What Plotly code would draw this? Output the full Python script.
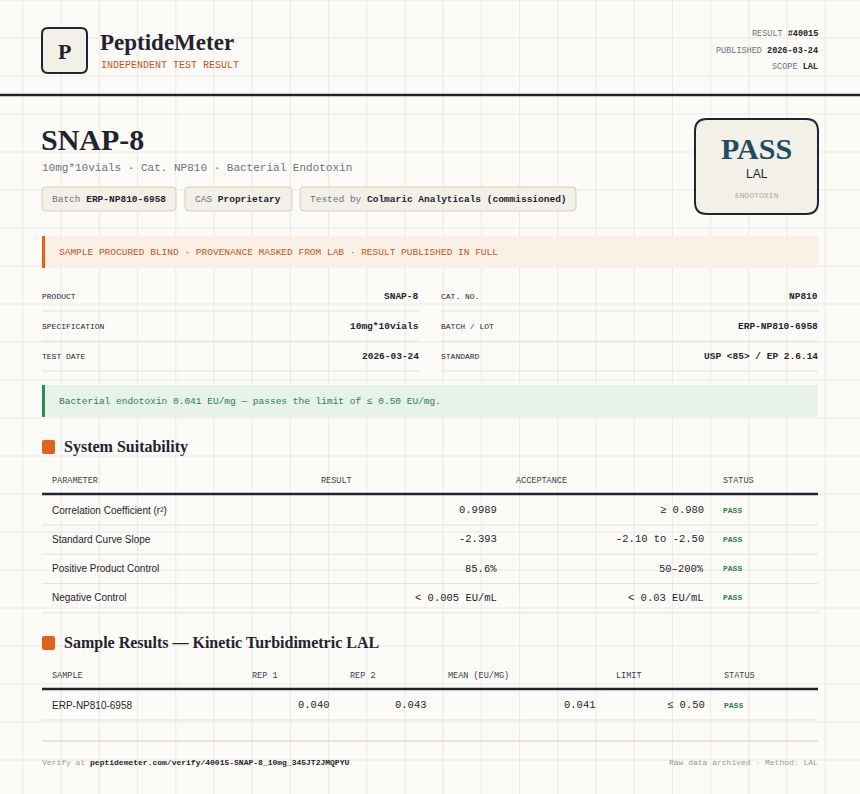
import plotly.graph_objects as go

W, H = 860, 794
DARK = "#1f2430"; GRAY = "#6b7280"; ORANGE = "#c4561d"; GREEN = "#2e7d4f"
LINE = "#e6e1d6"; PILL = "#f3f0e8"; PILLB = "#d6cfbf"
MONO = "Liberation Mono, DejaVu Sans Mono, monospace"
SERIF = "Liberation Serif, DejaVu Serif, serif"
SANS = "Liberation Sans, Roboto, sans-serif"

meta_labels = ["RESULT", "PUBLISHED", "SCOPE"]
meta_values = ["#40015", "2026-03-24", "LAL"]
pills = [("Batch", "ERP-NP810-6958"), ("CAS", "Proprietary"), ("Tested by", "Colmaric Analyticals (commissioned)")]
info_left = [("PRODUCT", "SNAP-8"), ("SPECIFICATION", "10mg*10vials"), ("TEST DATE", "2026-03-24")]
info_right = [("CAT. NO.", "NP810"), ("BATCH / LOT", "ERP-NP810-6958"), ("STANDARD", "USP <85> / EP 2.6.14")]
ss_headers = ["PARAMETER", "RESULT", "ACCEPTANCE", "STATUS"]
ss_params = ["Correlation Coefficient (r²)", "Standard Curve Slope", "Positive Product Control", "Negative Control"]
ss_results = ["0.9989", "-2.393", "85.6%", "< 0.005 EU/mL"]
ss_accept = ["≥ 0.980", "-2.10 to -2.50", "50–200%", "< 0.03 EU/mL"]
ss_status = ["PASS", "PASS", "PASS", "PASS"]
sr_headers = ["SAMPLE", "REP 1", "REP 2", "MEAN (EU/MG)", "LIMIT", "STATUS"]
sr_rows = [["ERP-NP810-6958", "0.040", "0.043", "0.041", "≤ 0.50", "PASS"]]

fig = go.Figure()
shapes = []; ann = []

def rect(x0, y0, x1, y1, fill, line=None, lw=0, r=0):
    if r:
        p = (f"M{x0+r},{y0} L{x1-r},{y0} Q{x1},{y0} {x1},{y0+r} L{x1},{y1-r} Q{x1},{y1} {x1-r},{y1} "
             f"L{x0+r},{y1} Q{x0},{y1} {x0},{y1-r} L{x0},{y0+r} Q{x0},{y0} {x0+r},{y0} Z")
        shapes.append(dict(type="path", path=p, xref="x", yref="y", fillcolor=fill,
                           line=dict(color=line or fill, width=lw), layer="above"))
    else:
        shapes.append(dict(type="rect", x0=x0, y0=y0, x1=x1, y1=y1, xref="x", yref="y",
                           fillcolor=fill, line=dict(color=line or fill, width=lw), layer="above"))

def hline(y, x0, x1, color, w):
    shapes.append(dict(type="line", x0=x0, x1=x1, y0=y, y1=y, xref="x", yref="y",
                       line=dict(color=color, width=w), layer="above"))

def text(x, y, s, size, color=DARK, font=MONO, anchor="left"):
    dx = -2 if anchor == "left" else (2 if anchor == "right" else 0)
    ann.append(dict(x=x + dx, y=y, xref="x", yref="y", text=s, showarrow=False, xanchor=anchor,
                    yanchor="middle", font=dict(size=size, color=color, family=font)))

# background grid
g = 23
while g < W:
    shapes.append(dict(type="line", x0=g, x1=g, y0=0, y1=H, xref="x", yref="y", line=dict(color="#ece9e0", width=1), layer="below"))
    g += 38.2
g = 0
while g < H:
    shapes.append(dict(type="line", x0=0, x1=W, y0=g, y1=g, xref="x", yref="y", line=dict(color="#ece9e0", width=1), layer="below"))
    g += 38

# header
rect(42, 28, 87, 73, PILL, DARK, 2, 6)
text(64.5, 51, "<b>P</b>", 22, DARK, SERIF, "center")
text(100, 42, "<b>PeptideMeter</b>", 23, DARK, SERIF)
text(101, 65, "INDEPENDENT TEST RESULT", 10, ORANGE)
for i, (l, v) in enumerate(zip(meta_labels, meta_values)):
    text(818, 34 + i * 16.5, f"<span style='color:{GRAY}'>{l}</span> <b>{v}</b>", 8.5, DARK, MONO, "right")
hline(95, 0, W, DARK, 2.5)

text(41, 139, "<b>SNAP-8</b>", 30, DARK, SERIF)
text(42, 168, "10mg*10vials · Cat. NP810 · Bacterial Endotoxin", 11, GRAY)
px = [(42, 176), (185, 292), (300, 576)]
for (a, b), (l, v) in zip(px, pills):
    rect(a, 187, b, 211, PILL, PILLB, 1, 4)
    text(a + 10, 199, f"<span style='color:{GRAY}'>{l}</span> <b>{v}</b>", 9.5, DARK)

rect(695, 119, 818, 214, PILL, DARK, 2, 12)
text(756.5, 148, "<b>PASS</b>", 30, "#1e4d63", SERIF, "center")
text(756.5, 174, "LAL", 12, DARK, SANS, "center")
text(756.5, 195, "ENDOTOXIN", 8, "#a8a8a8", MONO, "center")

rect(42, 236, 818, 268, "#fbf0e6")
rect(42, 236, 45, 268, "#e0621e")
text(59, 252, "SAMPLE PROCURED BLIND · PROVENANCE MASKED FROM LAB · RESULT PUBLISHED IN FULL", 9.5, ORANGE)

for i in range(3):
    y = 296 + i * 30
    text(42, y, info_left[i][0], 8, DARK)
    text(419, y, f"<b>{info_left[i][1]}</b>", 9.5, DARK, MONO, "right")
    text(441, y, info_right[i][0], 8, DARK)
    text(818, y, f"<b>{info_right[i][1]}</b>", 9.5, DARK, MONO, "right")
    hline(y + 15, 42, 419, LINE, 1)
    hline(y + 15, 441, 818, LINE, 1)

rect(42, 385, 818, 417, "#e6f2ea")
rect(42, 385, 45, 417, "#2e8b57")
text(59, 401, "Bacterial endotoxin 0.041 EU/mg — passes the limit of ≤ 0.50 EU/mg.", 9.5, GREEN)

# System suitability
rect(42, 440, 55, 454, "#e0621e", r=2)
text(64, 447, "<b>System Suitability</b>", 16, DARK, SERIF)
for s, x in zip(ss_headers, [52, 321, 516, 723]):
    text(x, 481, s, 8.5, "#3a3f4a")
hline(494, 42, 818, DARK, 2.5)
for i in range(4):
    y = 510 + i * 29.3
    text(52, y, ss_params[i], 10, DARK, SANS)
    text(497, y, ss_results[i], 10.5, DARK, MONO, "right")
    text(704, y, ss_accept[i], 10.5, DARK, MONO, "right")
    text(723, y, f"<b>{ss_status[i]}</b>", 8, GREEN)
    hline(y + 15, 42, 818, LINE, 1)

# Sample results
rect(42, 636, 55, 650, "#e0621e", r=2)
text(64, 643, "<b>Sample Results — Kinetic Turbidimetric LAL</b>", 16, DARK, SERIF)
for s, x in zip(sr_headers, [52, 252, 350, 448, 616, 724]):
    text(x, 676, s, 8.5, "#3a3f4a")
hline(689, 42, 818, DARK, 2.5)
xs = [(52, "left"), (330, "right"), (427, "right"), (596, "right"), (705, "right"), (724, "left")]
for j, row in enumerate(sr_rows):
    y = 705 + j * 30
    for k, ((x, a), v) in enumerate(zip(xs, row)):
        if k == 0:
            text(x, y, v, 10, DARK, SANS, a)
        elif k == 5:
            text(x, y, f"<b>{v}</b>", 8, GREEN, MONO, a)
        else:
            text(x, y, v, 10.5, DARK, MONO, a)
    hline(y + 15, 42, 818, LINE, 1)

hline(741, 42, 818, "#d6cfbf", 1)
text(42, 762, f"<span style='color:#9a9a9a'>Verify at</span> <b>peptidemeter.com/verify/40015-SNAP-8_10mg_345JT2JMQPYU</b>", 8, DARK)
text(818, 762, "Raw data archived · Method: LAL", 8, "#9a9a9a", MONO, "right")

fig.update_layout(width=W, height=H, margin=dict(l=0, r=0, t=0, b=0),
                  paper_bgcolor="#fcfbf7", plot_bgcolor="#fcfbf7",
                  xaxis=dict(range=[0, W], visible=False, fixedrange=True),
                  yaxis=dict(range=[H, 0], visible=False, fixedrange=True),
                  shapes=shapes, annotations=ann, showlegend=False)
fig.write_html("out.html", config={"displayModeBar": False},
               post_script="document.body.style.margin='0';document.body.style.background='#fcfbf7';")
